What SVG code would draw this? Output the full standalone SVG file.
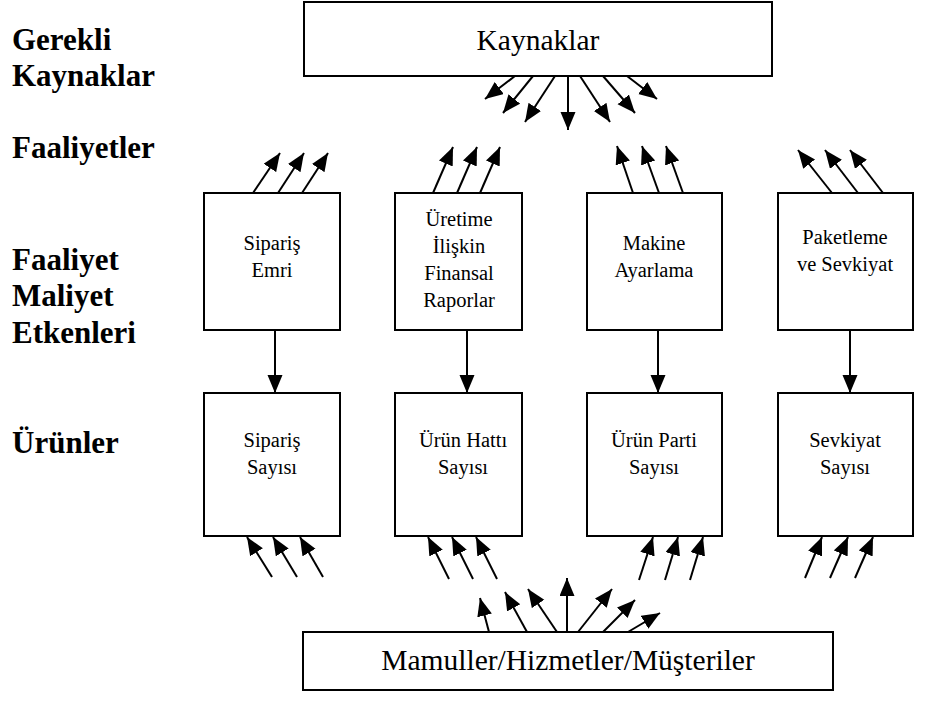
<svg xmlns="http://www.w3.org/2000/svg" width="936" height="702" viewBox="0 0 936 702">
  <style>
    .box { fill: #ffffff; stroke: #000000; stroke-width: 2; }
    .lbl { font-family: "Liberation Serif", "Tinos", "DejaVu Serif", serif; font-size: 31px; font-weight: bold; fill: #000000; }
    .big { font-family: "Liberation Serif", "Tinos", "DejaVu Serif", serif; font-size: 29.5px; fill: #000000; text-anchor: middle; }
    .txt { font-family: "Liberation Serif", "Tinos", "DejaVu Serif", serif; font-size: 20.5px; fill: #000000; text-anchor: middle; }
    .arr { stroke: #000000; stroke-width: 2; fill: none; marker-end: url(#head); }
  </style>
  <defs>
    <marker id="head" markerUnits="userSpaceOnUse" markerWidth="19" markerHeight="16" refX="18" refY="7.5" orient="auto">
      <path d="M0,0 L18,7.5 L0,15 z" fill="#000000"/>
    </marker>
  </defs>
  <rect width="936" height="702" fill="#ffffff"/>

  <!-- row labels -->
  <g id="labels">
    <text class="lbl" x="12" y="50">Gerekli</text>
    <text class="lbl" x="12" y="86">Kaynaklar</text>
    <text class="lbl" x="12" y="158">Faaliyetler</text>
    <text class="lbl" x="12" y="270">Faaliyet</text>
    <text class="lbl" x="12" y="306">Maliyet</text>
    <text class="lbl" x="12" y="343">Etkenleri</text>
    <text class="lbl" x="12" y="453">Ürünler</text>
  </g>

  <!-- connectors -->
  <g id="connectors">
    <!-- fan out of resources -->
    <line class="arr" x1="515" y1="76" x2="485" y2="99"/>
    <line class="arr" x1="533" y1="76" x2="503" y2="113"/>
    <line class="arr" x1="555" y1="76" x2="525" y2="122"/>
    <line class="arr" x1="568" y1="76" x2="568" y2="130"/>
    <line class="arr" x1="580" y1="76" x2="610" y2="122"/>
    <line class="arr" x1="603" y1="76" x2="635" y2="113"/>
    <line class="arr" x1="627" y1="76" x2="657" y2="99"/>

    <!-- activity inputs -->
    <line class="arr" x1="253" y1="193" x2="280" y2="153"/>
    <line class="arr" x1="278" y1="193" x2="304" y2="153"/>
    <line class="arr" x1="302" y1="193" x2="328" y2="153"/>

    <line class="arr" x1="433" y1="193" x2="453" y2="147"/>
    <line class="arr" x1="457" y1="193" x2="477" y2="147"/>
    <line class="arr" x1="480" y1="193" x2="500" y2="147"/>

    <line class="arr" x1="633" y1="193" x2="617" y2="146"/>
    <line class="arr" x1="659" y1="193" x2="642" y2="146"/>
    <line class="arr" x1="683" y1="193" x2="666" y2="146"/>

    <line class="arr" x1="832" y1="193" x2="798" y2="150"/>
    <line class="arr" x1="858" y1="193" x2="825" y2="150"/>
    <line class="arr" x1="883" y1="193" x2="850" y2="150"/>

    <!-- drivers to products -->
    <line class="arr" x1="275" y1="330" x2="275" y2="393"/>
    <line class="arr" x1="467" y1="330" x2="467" y2="393"/>
    <line class="arr" x1="658" y1="330" x2="658" y2="393"/>
    <line class="arr" x1="850" y1="330" x2="850" y2="393"/>

    <!-- arrows into products from below -->
    <line class="arr" x1="272" y1="577" x2="247" y2="537"/>
    <line class="arr" x1="297" y1="577" x2="273" y2="537"/>
    <line class="arr" x1="323" y1="577" x2="300" y2="537"/>

    <line class="arr" x1="449" y1="579" x2="428" y2="537"/>
    <line class="arr" x1="473" y1="579" x2="452" y2="537"/>
    <line class="arr" x1="497" y1="579" x2="476" y2="537"/>

    <line class="arr" x1="639" y1="580" x2="653" y2="537"/>
    <line class="arr" x1="665" y1="580" x2="678" y2="537"/>
    <line class="arr" x1="690" y1="580" x2="703" y2="537"/>

    <line class="arr" x1="805" y1="578" x2="822" y2="537"/>
    <line class="arr" x1="830" y1="578" x2="848" y2="537"/>
    <line class="arr" x1="855" y1="578" x2="873" y2="537"/>

    <!-- fan out of products/services/customers -->
    <line class="arr" x1="489" y1="632" x2="480" y2="598"/>
    <line class="arr" x1="527" y1="632" x2="505" y2="592"/>
    <line class="arr" x1="557" y1="632" x2="528" y2="589"/>
    <line class="arr" x1="567" y1="632" x2="567" y2="578"/>
    <line class="arr" x1="578" y1="632" x2="612" y2="589"/>
    <line class="arr" x1="603" y1="632" x2="635" y2="600"/>
    <line class="arr" x1="628" y1="632" x2="660" y2="613"/>
  </g>

  <g id="kaynaklar">
    <rect class="box" x="304" y="2" width="468" height="74"/>
    <text class="big" x="538" y="50">Kaynaklar</text>
  </g>

  <g id="siparis-emri">
    <rect class="box" x="204" y="193" width="136" height="137"/>
    <text class="txt" x="272" y="250">Sipariş</text>
    <text class="txt" x="272" y="277">Emri</text>
  </g>
  <g id="finansal-raporlar">
    <rect class="box" x="395" y="193" width="127" height="137"/>
    <text class="txt" x="459" y="226">Üretime</text>
    <text class="txt" x="459" y="253">İlişkin</text>
    <text class="txt" x="459" y="280">Finansal</text>
    <text class="txt" x="459" y="307">Raporlar</text>
  </g>
  <g id="makine-ayarlama">
    <rect class="box" x="587" y="193" width="135" height="137"/>
    <text class="txt" x="654" y="250">Makine</text>
    <text class="txt" x="654" y="277">Ayarlama</text>
  </g>
  <g id="paketleme">
    <rect class="box" x="778" y="193" width="135" height="137"/>
    <text class="txt" x="845" y="244">Paketleme</text>
    <text class="txt" x="845" y="271">ve Sevkiyat</text>
  </g>

  <g id="siparis-sayisi">
    <rect class="box" x="204" y="393" width="136" height="143"/>
    <text class="txt" x="272" y="447">Sipariş</text>
    <text class="txt" x="272" y="474">Sayısı</text>
  </g>
  <g id="urun-hatti">
    <rect class="box" x="395" y="393" width="127" height="143"/>
    <text class="txt" x="463" y="447">Ürün Hattı</text>
    <text class="txt" x="463" y="474">Sayısı</text>
  </g>
  <g id="urun-parti">
    <rect class="box" x="587" y="393" width="135" height="143"/>
    <text class="txt" x="654" y="447">Ürün Parti</text>
    <text class="txt" x="654" y="474">Sayısı</text>
  </g>
  <g id="sevkiyat-sayisi">
    <rect class="box" x="778" y="393" width="135" height="143"/>
    <text class="txt" x="845" y="447">Sevkiyat</text>
    <text class="txt" x="845" y="474">Sayısı</text>
  </g>

  <g id="mamuller">
    <rect class="box" x="303" y="632" width="530" height="58"/>
    <text class="big" x="568" y="670">Mamuller/Hizmetler/Müşteriler</text>
  </g>
</svg>
